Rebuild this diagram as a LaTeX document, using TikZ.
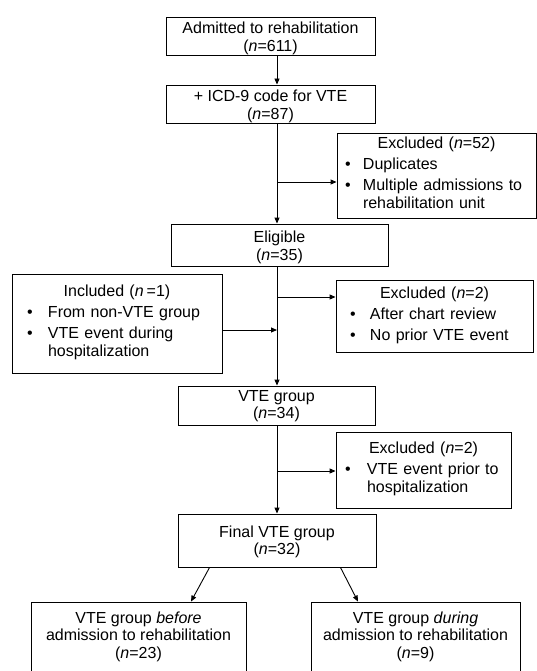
\documentclass[tikz,border=0pt]{standalone}
\usepackage{fontspec}
\setmainfont{Liberation Sans}
\usetikzlibrary{arrows.meta,calc}
\newcommand{\ctext}[2]{\raisebox{-#1}[\height][\depth]{\begin{tabular}{@{}c@{}}#2\end{tabular}}}
\newcommand{\bx}[1]{\makebox[#1][l]{•}}
\begin{document}
\begin{tikzpicture}[x=1pt,y=-1pt,
  box/.style={draw=black, line width=0.9pt, inner sep=0pt, font=\fontsize{16}{17.5}\selectfont},
  lbox/.style={draw=black, line width=0.9pt, inner sep=0pt, align=left, font=\fontsize{16}{18.5}\selectfont},
  arr/.style={line width=0.9pt, -{Triangle[length=6pt,width=5pt]}}]
\useasboundingbox (0,0) rectangle (537,671);
\node[box, minimum width=209pt, minimum height=38pt] (b1) at (270.5,36) {\ctext{3pt}{Admitted to rehabilitation\\(\textit{n}=611)}};
\node[box, minimum width=209pt, minimum height=38pt] (b2) at (270.5,104) {\ctext{3pt}{+ ICD-9 code for VTE\\(\textit{n}=87)}};
\node[lbox, minimum width=199pt, minimum height=85pt, text width=189pt] (exc1) at (436.5,175.5)
  {{\centering Excluded (\textit{n}=52)\par}\vspace{2.5pt}\noindent\hspace*{3pt}\begin{tabular}[t]{@{}l@{}l@{}}\bx{18pt}&Duplicates\\[2.5pt]\bx{18pt}&Multiple admissions to\\&rehabilitation unit\end{tabular}};
\node[box, minimum width=217pt, minimum height=42pt] (elig) at (279.5,245) {\ctext{3pt}{Eligible\\(\textit{n}=35)}};
\node[lbox, minimum width=210pt, minimum height=99pt, text width=200pt] (inc) at (117,323.5)
  {{\centering Included (\textit{n}\hspace{3pt}=1)\par}\vspace{2.5pt}\noindent\hspace*{10pt}\begin{tabular}[t]{@{}l@{}l@{}}\bx{21pt}&From non-VTE group\\[2.5pt]\bx{21pt}&VTE event during\\&hospitalization\end{tabular}};
\node[lbox, minimum width=197pt, minimum height=72pt, text width=187pt] (exc2) at (434.5,316)
  {{\centering Excluded (\textit{n}=2)\par}\vspace{2.5pt}\noindent\hspace*{9pt}\begin{tabular}[t]{@{}l@{}l@{}}\bx{20pt}&After chart review\\[2.5pt]\bx{20pt}&No prior VTE event\end{tabular}};
\node[box, minimum width=197pt, minimum height=39pt] (vte) at (276.5,405.5) {\ctext{1pt}{VTE group\\(\textit{n}=34)}};
\node[lbox, minimum width=175pt, minimum height=76pt, text width=165pt] (exc3) at (423.5,470)
  {{\centering Excluded (\textit{n}=2)\par}\vspace{2.5pt}\noindent\hspace*{4pt}\begin{tabular}[t]{@{}l@{}l@{}}\bx{22pt}&VTE event prior to\\&hospitalization\end{tabular}};
\node[box, minimum width=198pt, minimum height=53pt] (final) at (277,540.5) {\ctext{2pt}{Final VTE group\\(\textit{n}=32)}};
\node[box, minimum width=215pt, minimum height=70pt] (bl) at (138.5,637) {\ctext{0pt}{VTE group \textit{before}\\admission to rehabilitation\\(\textit{n}=23)}};
\node[box, minimum width=209pt, minimum height=70pt] (br) at (415.5,637) {\ctext{0pt}{VTE group \textit{during}\\admission to rehabilitation\\(\textit{n}=9)}};
\coordinate (L) at (277,0);
\coordinate (j1) at (277,182);
\coordinate (j2) at (277,297);
\coordinate (j3) at (277,330);
\coordinate (j4) at (277,471);
\draw[arr] (b1.south -| L) -- (b2.north -| L);
\draw[arr] (b2.south -| L) -- (elig.north -| L);
\draw[arr] (j1) -- (j1 -| exc1.west);
\draw[arr] (elig.south -| L) -- (vte.north -| L);
\draw[arr] (j2) -- (j2 -| exc2.west);
\draw[arr] (j3 -| inc.east) -- (j3);
\draw[arr] (vte.south -| L) -- (final.north -| L);
\draw[arr] (j4) -- (j4 -| exc3.west);
\draw[arr] ($(final.south west)+(32,0)$) -- ($(bl.north)+(52.5,0)$);
\draw[arr] ($(final.south east)+(-36,0)$) -- ($(br.north)+(-57.5,0)$);
\end{tikzpicture}
\end{document}
